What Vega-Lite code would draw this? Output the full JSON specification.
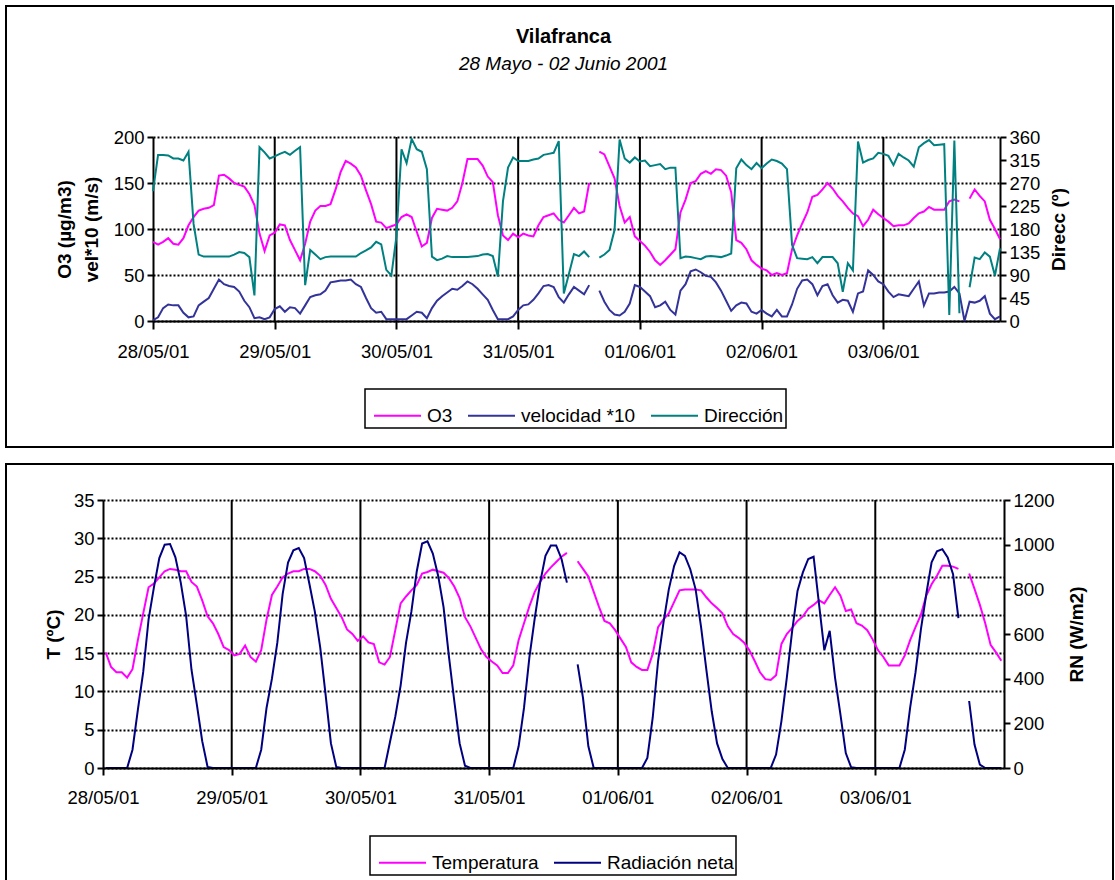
{
  "$schema": "https://vega.github.io/schema/vega-lite/v6.json",
  "padding": {"left": 5, "top": 5, "right": 0, "bottom": 0},
  "background": "white",
  "spacing": 15,
  "resolve": {"scale": {"color": "independent"}, "legend": {"color": "independent"}},
  "config": {
    "font": "Liberation Sans",
    "view": {"stroke": "black", "strokeWidth": 2},
    "axis": {"labelFont": "Liberation Sans", "labelFontSize": 18.5, "labelColor": "black", "titleFont": "Liberation Sans", "titleFontSize": 19, "titleColor": "black", "titleFontWeight": "bold", "domainColor": "black", "domainWidth": 2, "tickColor": "black", "tickWidth": 2, "gridColor": "black", "labelFlush": false, "labelOverlap": false, "labelBound": false},
    "legend": {"labelFont": "Liberation Sans", "labelFontSize": 19, "labelColor": "black", "strokeColor": "black", "strokeWidth": 1.5, "fillColor": "white", "symbolType": "stroke", "symbolStrokeWidth": 2, "symbolSize": 2209, "labelOffset": 5, "columnPadding": 8, "padding": 2, "symbolOffset": 6, "direction": "horizontal", "title": null}
  },
  "datasets": {"d": [
{"h":0,"o3":86,"vel":1,"dir":254,"t":15.1,"rn":0},
{"h":1,"o3":83,"vel":4,"dir":325,"t":13.2,"rn":0},
{"h":2,"o3":86,"vel":14,"dir":325,"t":12.5,"rn":0},
{"h":3,"o3":90,"vel":18,"dir":324,"t":12.5,"rn":0},
{"h":4,"o3":84,"vel":17,"dir":318,"t":11.8,"rn":0},
{"h":5,"o3":83,"vel":17,"dir":318,"t":12.9,"rn":82},
{"h":6,"o3":90,"vel":9,"dir":314,"t":16.7,"rn":260},
{"h":7,"o3":104,"vel":4,"dir":331,"t":20.2,"rn":430},
{"h":8,"o3":113,"vel":5,"dir":190,"t":23.6,"rn":666},
{"h":9,"o3":120,"vel":17,"dir":130,"t":24.1,"rn":810},
{"h":10,"o3":122,"vel":21,"dir":126,"t":24.9,"rn":940},
{"h":11,"o3":123,"vel":25,"dir":126,"t":25.7,"rn":1000},
{"h":12,"o3":126,"vel":35,"dir":126,"t":26.0,"rn":1003},
{"h":13,"o3":158,"vel":45,"dir":126,"t":25.9,"rn":943},
{"h":14,"o3":159,"vel":40,"dir":126,"t":25.7,"rn":830},
{"h":15,"o3":155,"vel":38,"dir":126,"t":25.7,"rn":681},
{"h":16,"o3":150,"vel":37,"dir":130,"t":24.3,"rn":440},
{"h":17,"o3":148,"vel":32,"dir":135,"t":23.7,"rn":284},
{"h":18,"o3":146,"vel":22,"dir":133,"t":21.9,"rn":120},
{"h":19,"o3":138,"vel":15,"dir":125,"t":19.8,"rn":5},
{"h":20,"o3":126,"vel":3,"dir":50,"t":18.9,"rn":0},
{"h":21,"o3":95,"vel":4,"dir":340,"t":17.5,"rn":0},
{"h":22,"o3":76,"vel":2,"dir":330,"t":15.8,"rn":0},
{"h":23,"o3":93,"vel":4,"dir":318,"t":15.4,"rn":0},
{"h":24,"o3":96,"vel":13,"dir":322,"t":14.7,"rn":0},
{"h":25,"o3":105,"vel":16,"dir":327,"t":14.9,"rn":0},
{"h":26,"o3":104,"vel":10,"dir":331,"t":16.0,"rn":0},
{"h":27,"o3":88,"vel":15,"dir":325,"t":14.5,"rn":0},
{"h":28,"o3":77,"vel":14,"dir":333,"t":13.9,"rn":0},
{"h":29,"o3":66,"vel":8,"dir":340,"t":15.4,"rn":82},
{"h":30,"o3":84,"vel":17,"dir":70,"t":19.4,"rn":270},
{"h":31,"o3":108,"vel":26,"dir":139,"t":22.6,"rn":400},
{"h":32,"o3":120,"vel":28,"dir":130,"t":23.7,"rn":560},
{"h":33,"o3":125,"vel":29,"dir":121,"t":24.9,"rn":780},
{"h":34,"o3":125,"vel":33,"dir":125,"t":25.4,"rn":920},
{"h":35,"o3":127,"vel":42,"dir":126,"t":25.7,"rn":975},
{"h":36,"o3":143,"vel":43,"dir":126,"t":25.7,"rn":985},
{"h":37,"o3":162,"vel":44,"dir":126,"t":26.0,"rn":940},
{"h":38,"o3":174,"vel":44,"dir":126,"t":26.0,"rn":823},
{"h":39,"o3":171,"vel":45,"dir":126,"t":25.7,"rn":700},
{"h":40,"o3":167,"vel":40,"dir":126,"t":25.1,"rn":540},
{"h":41,"o3":158,"vel":37,"dir":133,"t":23.9,"rn":330},
{"h":42,"o3":142,"vel":25,"dir":138,"t":22.1,"rn":110},
{"h":43,"o3":127,"vel":14,"dir":144,"t":20.9,"rn":5},
{"h":44,"o3":108,"vel":9,"dir":155,"t":19.7,"rn":0},
{"h":45,"o3":107,"vel":10,"dir":150,"t":18.1,"rn":0},
{"h":46,"o3":101,"vel":2,"dir":100,"t":17.5,"rn":0},
{"h":47,"o3":103,"vel":2,"dir":89,"t":16.6,"rn":0},
{"h":48,"o3":105,"vel":2,"dir":166,"t":17.2,"rn":0},
{"h":49,"o3":113,"vel":2,"dir":336,"t":16.4,"rn":0},
{"h":50,"o3":116,"vel":2,"dir":309,"t":16.2,"rn":0},
{"h":51,"o3":113,"vel":6,"dir":356,"t":13.8,"rn":0},
{"h":52,"o3":97,"vel":10,"dir":336,"t":13.5,"rn":0},
{"h":53,"o3":81,"vel":9,"dir":331,"t":14.5,"rn":115},
{"h":54,"o3":85,"vel":3,"dir":297,"t":18.0,"rn":230},
{"h":55,"o3":112,"vel":14,"dir":126,"t":21.5,"rn":370},
{"h":56,"o3":122,"vel":22,"dir":119,"t":22.4,"rn":560},
{"h":57,"o3":121,"vel":27,"dir":122,"t":23.2,"rn":700},
{"h":58,"o3":120,"vel":31,"dir":127,"t":23.9,"rn":880},
{"h":59,"o3":123,"vel":35,"dir":125,"t":25.4,"rn":1005},
{"h":60,"o3":130,"vel":34,"dir":125,"t":25.6,"rn":1015},
{"h":61,"o3":150,"vel":38,"dir":125,"t":25.9,"rn":960},
{"h":62,"o3":176,"vel":43,"dir":125,"t":25.7,"rn":860},
{"h":63,"o3":176,"vel":40,"dir":126,"t":25.5,"rn":720},
{"h":64,"o3":176,"vel":35,"dir":127,"t":24.8,"rn":500},
{"h":65,"o3":169,"vel":29,"dir":130,"t":23.7,"rn":300},
{"h":66,"o3":157,"vel":23,"dir":131,"t":22.2,"rn":110},
{"h":67,"o3":151,"vel":12,"dir":127,"t":19.7,"rn":10},
{"h":68,"o3":115,"vel":2,"dir":87,"t":18.5,"rn":0},
{"h":69,"o3":93,"vel":2,"dir":234,"t":17.0,"rn":0},
{"h":70,"o3":88,"vel":2,"dir":300,"t":15.5,"rn":0},
{"h":71,"o3":95,"vel":5,"dir":320,"t":14.5,"rn":0},
{"h":72,"o3":91,"vel":12,"dir":313,"t":13.9,"rn":0},
{"h":73,"o3":95,"vel":17,"dir":313,"t":13.4,"rn":0},
{"h":74,"o3":93,"vel":18,"dir":313,"t":12.4,"rn":0},
{"h":75,"o3":92,"vel":23,"dir":316,"t":12.4,"rn":0},
{"h":76,"o3":104,"vel":30,"dir":318,"t":13.4,"rn":0},
{"h":77,"o3":113,"vel":38,"dir":325,"t":16.7,"rn":97},
{"h":78,"o3":115,"vel":39,"dir":327,"t":18.9,"rn":269},
{"h":79,"o3":117,"vel":37,"dir":329,"t":21.1,"rn":494},
{"h":80,"o3":110,"vel":26,"dir":352,"t":23.0,"rn":670},
{"h":81,"o3":107,"vel":20,"dir":54,"t":24.3,"rn":829},
{"h":82,"o3":115,"vel":29,"dir":92,"t":25.4,"rn":950},
{"h":83,"o3":123,"vel":37,"dir":131,"t":26.2,"rn":996},
{"h":84,"o3":117,"vel":33,"dir":127,"t":26.9,"rn":996},
{"h":85,"o3":119,"vel":29,"dir":136,"t":27.6,"rn":936},
{"h":86,"o3":150,"vel":39,"dir":125,"t":28.1,"rn":830},
{"h":87,"o3":null,"vel":null,"dir":null,"t":null,"rn":null},
{"h":88,"o3":184,"vel":33,"dir":124,"t":27.0,"rn":464},
{"h":89,"o3":181,"vel":21,"dir":130,"t":26.0,"rn":314},
{"h":90,"o3":168,"vel":12,"dir":139,"t":25.0,"rn":97},
{"h":91,"o3":155,"vel":7,"dir":178,"t":23.0,"rn":0},
{"h":92,"o3":125,"vel":6,"dir":355,"t":21.0,"rn":0},
{"h":93,"o3":107,"vel":10,"dir":318,"t":19.2,"rn":0},
{"h":94,"o3":113,"vel":19,"dir":310,"t":18.9,"rn":0},
{"h":95,"o3":92,"vel":39,"dir":320,"t":18.0,"rn":0},
{"h":96,"o3":87,"vel":37,"dir":312,"t":16.9,"rn":0},
{"h":97,"o3":82,"vel":32,"dir":314,"t":15.8,"rn":0},
{"h":98,"o3":75,"vel":27,"dir":303,"t":13.8,"rn":0},
{"h":99,"o3":66,"vel":15,"dir":305,"t":13.2,"rn":0},
{"h":100,"o3":61,"vel":17,"dir":307,"t":12.8,"rn":0},
{"h":101,"o3":66,"vel":21,"dir":297,"t":12.8,"rn":45},
{"h":102,"o3":72,"vel":12,"dir":300,"t":14.9,"rn":225},
{"h":103,"o3":78,"vel":7,"dir":300,"t":18.4,"rn":479},
{"h":104,"o3":118,"vel":33,"dir":123,"t":19.4,"rn":650},
{"h":105,"o3":132,"vel":40,"dir":126,"t":20.2,"rn":800},
{"h":106,"o3":150,"vel":54,"dir":125,"t":21.7,"rn":905},
{"h":107,"o3":152,"vel":56,"dir":123,"t":23.2,"rn":966},
{"h":108,"o3":160,"vel":53,"dir":121,"t":23.3,"rn":950},
{"h":109,"o3":163,"vel":49,"dir":126,"t":23.3,"rn":890},
{"h":110,"o3":160,"vel":48,"dir":127,"t":23.3,"rn":800},
{"h":111,"o3":165,"vel":42,"dir":126,"t":23.2,"rn":634},
{"h":112,"o3":164,"vel":33,"dir":125,"t":22.3,"rn":441},
{"h":113,"o3":158,"vel":22,"dir":128,"t":21.5,"rn":254},
{"h":114,"o3":140,"vel":11,"dir":132,"t":20.9,"rn":110},
{"h":115,"o3":88,"vel":17,"dir":299,"t":20.2,"rn":40},
{"h":116,"o3":85,"vel":20,"dir":316,"t":18.5,"rn":0},
{"h":117,"o3":78,"vel":19,"dir":305,"t":17.5,"rn":0},
{"h":118,"o3":66,"vel":10,"dir":297,"t":17.0,"rn":0},
{"h":119,"o3":61,"vel":8,"dir":309,"t":16.4,"rn":0},
{"h":120,"o3":57,"vel":12,"dir":299,"t":15.4,"rn":0},
{"h":121,"o3":55,"vel":8,"dir":308,"t":14.0,"rn":0},
{"h":122,"o3":50,"vel":5,"dir":316,"t":12.5,"rn":0},
{"h":123,"o3":52,"vel":12,"dir":313,"t":11.6,"rn":0},
{"h":124,"o3":50,"vel":5,"dir":308,"t":11.5,"rn":0},
{"h":125,"o3":52,"vel":5,"dir":297,"t":12.1,"rn":60},
{"h":126,"o3":78,"vel":18,"dir":149,"t":16.2,"rn":210},
{"h":127,"o3":93,"vel":35,"dir":123,"t":17.5,"rn":404},
{"h":128,"o3":106,"vel":44,"dir":122,"t":18.3,"rn":614},
{"h":129,"o3":118,"vel":45,"dir":121,"t":19.2,"rn":793},
{"h":130,"o3":135,"vel":40,"dir":125,"t":19.8,"rn":876},
{"h":131,"o3":137,"vel":28,"dir":113,"t":20.8,"rn":936},
{"h":132,"o3":143,"vel":38,"dir":125,"t":21.3,"rn":946},
{"h":133,"o3":150,"vel":40,"dir":125,"t":21.9,"rn":736},
{"h":134,"o3":144,"vel":28,"dir":125,"t":21.5,"rn":527},
{"h":135,"o3":136,"vel":20,"dir":113,"t":22.6,"rn":614},
{"h":136,"o3":130,"vel":23,"dir":57,"t":23.6,"rn":404},
{"h":137,"o3":123,"vel":22,"dir":113,"t":22.5,"rn":240},
{"h":138,"o3":117,"vel":10,"dir":99,"t":20.5,"rn":67},
{"h":139,"o3":114,"vel":30,"dir":351,"t":20.7,"rn":3},
{"h":140,"o3":103,"vel":32,"dir":310,"t":18.9,"rn":0},
{"h":141,"o3":110,"vel":55,"dir":315,"t":18.6,"rn":0},
{"h":142,"o3":121,"vel":50,"dir":318,"t":18.0,"rn":0},
{"h":143,"o3":116,"vel":43,"dir":329,"t":16.8,"rn":0},
{"h":144,"o3":112,"vel":40,"dir":327,"t":15.4,"rn":0},
{"h":145,"o3":108,"vel":32,"dir":323,"t":14.5,"rn":0},
{"h":146,"o3":103,"vel":26,"dir":305,"t":13.4,"rn":0},
{"h":147,"o3":104,"vel":29,"dir":327,"t":13.4,"rn":0},
{"h":148,"o3":104,"vel":28,"dir":320,"t":13.4,"rn":0},
{"h":149,"o3":106,"vel":27,"dir":314,"t":14.7,"rn":82},
{"h":150,"o3":112,"vel":35,"dir":302,"t":16.7,"rn":270},
{"h":151,"o3":117,"vel":43,"dir":340,"t":18.4,"rn":428},
{"h":152,"o3":119,"vel":17,"dir":348,"t":20.0,"rn":620},
{"h":153,"o3":124,"vel":30,"dir":354,"t":22.5,"rn":778},
{"h":154,"o3":121,"vel":30,"dir":344,"t":24.0,"rn":921},
{"h":155,"o3":121,"vel":31,"dir":345,"t":25.1,"rn":970},
{"h":156,"o3":121,"vel":31,"dir":346,"t":26.4,"rn":980},
{"h":157,"o3":130,"vel":32,"dir":12,"t":26.4,"rn":943},
{"h":158,"o3":132,"vel":37,"dir":353,"t":26.3,"rn":868},
{"h":159,"o3":130,"vel":30,"dir":15,"t":26.0,"rn":671},
{"h":160,"o3":null,"vel":0,"dir":null,"t":null,"rn":null},
{"h":161,"o3":133,"vel":21,"dir":66,"t":25.4,"rn":300},
{"h":162,"o3":143,"vel":20,"dir":124,"t":23.4,"rn":105},
{"h":163,"o3":136,"vel":22,"dir":121,"t":21.3,"rn":15},
{"h":164,"o3":130,"vel":27,"dir":134,"t":18.9,"rn":0},
{"h":165,"o3":110,"vel":8,"dir":126,"t":16.1,"rn":0},
{"h":166,"o3":100,"vel":2,"dir":89,"t":15.1,"rn":0},
{"h":167,"o3":89,"vel":5,"dir":142,"t":14.0,"rn":0}
  ]},
  "vconcat": [
    {
      "width": 1107,
      "height": 441,
      "data": {"name": "d"},
      "title": {"text": "Vilafranca", "subtitle": "28 Mayo - 02 Junio 2001", "anchor": "middle", "offset": -68, "dx": 4, "fontSize": 20, "fontWeight": "bold", "font": "Liberation Sans", "color": "black", "subtitleFont": "Liberation Sans", "subtitleFontSize": 19, "subtitleFontStyle": "italic", "subtitleColor": "black", "subtitlePadding": 8},
      "layer": [
        {
          "layer": [
            {
              "data": {"values": [{"day": 24}, {"day": 48}, {"day": 72}, {"day": 96}, {"day": 120}, {"day": 144}]},
              "mark": {"type": "rule", "color": "black", "strokeWidth": 2},
              "encoding": {
                "x": {"field": "day", "type": "quantitative"},
                "y": {"datum": 0, "type": "quantitative"},
                "y2": {"datum": 200}
              }
            },
            {
              "mark": {"type": "line", "strokeWidth": 2},
              "encoding": {
                "x": {"field": "h", "type": "quantitative", "scale": {"domain": [0, 167], "range": [147, 994], "nice": false, "zero": false},
                  "axis": {"orient": "bottom", "offset": -126, "values": [0, 24, 48, 72, 96, 120, 144], "labelExpr": "['28/05/01','29/05/01','30/05/01','31/05/01','01/06/01','02/06/01','03/06/01'][round(datum.value/24)]", "grid": false, "tickSize": 8, "labelPadding": 13, "title": null}},
                "y": {"field": "o3", "type": "quantitative", "scale": {"domain": [0, 200], "range": [315, 131], "nice": false, "zero": false},
                  "axis": {"orient": "left", "offset": -147, "values": [0, 50, 100, 150, 200], "grid": true, "gridDash": [2, 2], "gridWidth": 2, "tickSize": 6, "labelPadding": 3, "title": ["O3 (µg/m3)", "vel*10 (m/s)"], "titlePadding": 12, "titleLineHeight": 27}},
                "color": {"datum": "O3", "type": "nominal",
                  "scale": {"domain": ["O3", "velocidad *10", "Dirección"], "range": ["#FF00FF", "#333399", "#008080"]},
                  "legend": {"orient": "none", "legendX": 359, "legendY": 383}}
              }
            },
            {
              "mark": {"type": "line", "strokeWidth": 2},
              "encoding": {
                "x": {"field": "h", "type": "quantitative"},
                "y": {"field": "vel", "type": "quantitative", "axis": {"title": ["O3 (µg/m3)", "vel*10 (m/s)"]}},
                "color": {"datum": "velocidad *10", "type": "nominal"}
              }
            }
          ]
        },
        {
          "mark": {"type": "line", "strokeWidth": 2},
          "encoding": {
            "x": {"field": "h", "type": "quantitative"},
            "y": {"field": "dir", "type": "quantitative", "scale": {"domain": [0, 360], "range": [315, 131], "nice": false, "zero": false},
              "axis": {"orient": "right", "offset": -113, "values": [0, 45, 90, 135, 180, 225, 270, 315, 360], "grid": false, "tickSize": 6, "labelPadding": 3, "title": "Direcc (º)", "titleAngle": -90, "titleBaseline": "top", "titlePadding": 10}},
            "color": {"datum": "Dirección", "type": "nominal"}
          }
        }
      ],
      "resolve": {"scale": {"y": "independent"}}
    },
    {
      "width": 1107,
      "height": 418,
      "data": {"name": "d"},
      "layer": [
        {
          "layer": [
            {
              "data": {"values": [{"day": 23.5}, {"day": 47.5}, {"day": 71.5}, {"day": 95.5}, {"day": 119.5}, {"day": 143.5}]},
              "mark": {"type": "rule", "color": "black", "strokeWidth": 2},
              "encoding": {
                "x": {"field": "day", "type": "quantitative"},
                "y": {"datum": 0, "type": "quantitative"},
                "y2": {"datum": 35}
              }
            },
            {
              "mark": {"type": "line", "strokeWidth": 2},
              "encoding": {
                "x": {"field": "h", "type": "quantitative", "scale": {"domain": [-0.5, 167.5], "range": [97, 998], "nice": false, "zero": false},
                  "axis": {"orient": "bottom", "offset": -114, "zindex": 1, "values": [-0.5, 23.5, 47.5, 71.5, 95.5, 119.5, 143.5], "labelExpr": "['28/05/01','29/05/01','30/05/01','31/05/01','01/06/01','02/06/01','03/06/01'][round((datum.value+0.5)/24)]", "grid": false, "tickSize": 7, "labelPadding": 13, "title": null}},
                "y": {"field": "t", "type": "quantitative", "scale": {"domain": [0, 35], "range": [304, 36], "nice": false, "zero": false},
                  "axis": {"orient": "left", "offset": -97, "values": [0, 5, 10, 15, 20, 25, 30, 35], "grid": true, "gridDash": [2, 2], "gridWidth": 2, "tickSize": 6, "labelPadding": 3, "title": "T (ºC)", "titlePadding": 10}},
                "color": {"datum": "Temperatura", "type": "nominal",
                  "scale": {"domain": ["Temperatura", "Radiación neta"], "range": ["#FF00FF", "#000080"]},
                  "legend": {"orient": "none", "legendX": 364, "legendY": 372}}
              }
            }
          ]
        },
        {
          "mark": {"type": "line", "strokeWidth": 2},
          "encoding": {
            "x": {"field": "h", "type": "quantitative"},
            "y": {"field": "rn", "type": "quantitative", "scale": {"domain": [0, 1200], "range": [304, 36], "nice": false, "zero": false},
              "axis": {"orient": "right", "offset": -109, "format": "d", "values": [0, 200, 400, 600, 800, 1000, 1200], "grid": false, "tickSize": 6, "labelPadding": 3, "title": "RN (W/m2)", "titleAngle": -90, "titleBaseline": "top", "titlePadding": 13}},
            "color": {"datum": "Radiación neta", "type": "nominal"}
          }
        }
      ],
      "resolve": {"scale": {"y": "independent"}}
    }
  ]
}
